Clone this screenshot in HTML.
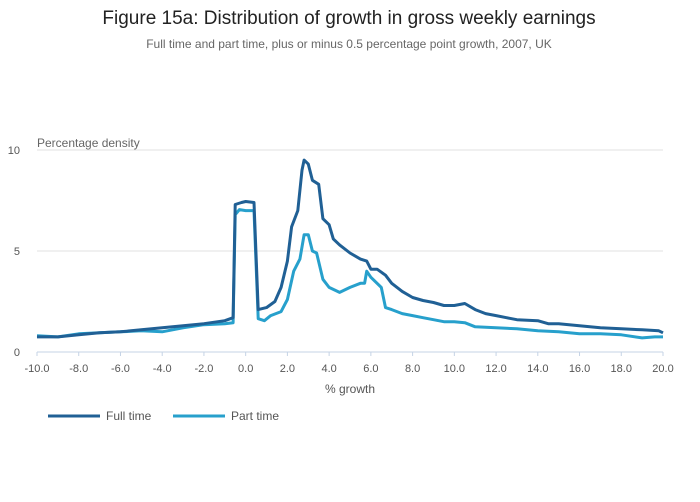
<!DOCTYPE html>
<html><head><meta charset="utf-8">
<style>
body{margin:0;background:#fff;font-family:"Liberation Sans",sans-serif;}
svg{display:block}
</style></head>
<body>
<svg id="chart" width="700" height="502">
<text x="349" y="24" text-anchor="middle" font-size="19" fill="#222">Figure 15a: Distribution of growth in gross weekly earnings</text>
<text x="349" y="48" text-anchor="middle" font-size="12" fill="#666">Full time and part time, plus or minus 0.5 percentage point growth, 2007, UK</text>
<text x="37" y="147" font-size="12" fill="#666">Percentage density</text>
<g id="grid"></g><g id="xaxis"></g><g id="series"></g>
<text x="350" y="393" text-anchor="middle" font-size="12" fill="#555">% growth</text>
<g>
<line x1="48" y1="416" x2="100" y2="416" stroke="#206095" stroke-width="3"/>
<text x="106" y="420" font-size="12" fill="#555">Full time</text></g>
<g>
<line x1="173" y1="416" x2="225" y2="416" stroke="#27a0cc" stroke-width="3"/>
<text x="231" y="420" font-size="12" fill="#555">Part time</text></g>
</svg>
<script>
const xTicks=[-10,-8,-6,-4,-2,0,2,4,6,8,10,12,14,16,18,20];
const yTicks=[0,5,10];
const ftX=[-10,-9,-8,-7,-6,-5,-4,-3,-2,-1,-0.6,-0.5,-0.2,0,0.4,0.6,1,1.4,1.7,2,2.2,2.5,2.7,2.8,3.0,3.2,3.5,3.7,4,4.2,4.5,5,5.5,5.8,6.0,6.3,6.7,7,7.5,8,8.5,9,9.5,10,10.5,11,11.5,12,12.5,13,14,14.5,15,16,17,18,19,19.8,20];
const ftY=[0.75,0.75,0.85,0.95,1.0,1.1,1.2,1.3,1.4,1.55,1.7,7.3,7.4,7.45,7.4,2.1,2.2,2.5,3.2,4.5,6.2,7.0,9.0,9.5,9.3,8.5,8.3,6.6,6.3,5.6,5.3,4.9,4.6,4.5,4.1,4.1,3.8,3.4,3.0,2.7,2.55,2.45,2.3,2.3,2.4,2.1,1.9,1.8,1.7,1.6,1.55,1.4,1.4,1.3,1.2,1.15,1.1,1.05,0.95];
const ptX=[-10,-9,-8,-7,-6,-5,-4,-3,-2,-1,-0.6,-0.5,-0.3,0,0.4,0.6,0.9,1.2,1.7,2,2.3,2.6,2.8,3.0,3.2,3.4,3.7,4.0,4.5,5,5.5,5.7,5.8,6.0,6.5,6.7,7,7.5,8,8.5,9,9.5,10,10.5,11,12,13,14,15,16,17,18,19,19.6,20];
const ptY=[0.8,0.75,0.9,0.95,1.0,1.05,1.0,1.2,1.35,1.4,1.45,6.8,7.05,7.0,7.0,1.65,1.55,1.8,2.0,2.6,4.0,4.6,5.8,5.8,5.0,4.9,3.6,3.2,2.95,3.2,3.4,3.4,4.0,3.7,3.2,2.2,2.1,1.9,1.8,1.7,1.6,1.5,1.5,1.45,1.25,1.2,1.15,1.05,1.0,0.9,0.9,0.85,0.7,0.75,0.75];
const X0=37,X1=663,Y0=352,Y1=150;
const sx=v=>X0+(v+10)/30*(X1-X0);
const sy=v=>Y0-v/10*(Y0-Y1);
const NS="http://www.w3.org/2000/svg";
function mk(tag,attrs,parent){const e=document.createElementNS(NS,tag);for(const k in attrs)e.setAttribute(k,attrs[k]);parent.appendChild(e);return e;}
const grid=document.getElementById('grid'),xa=document.getElementById('xaxis'),ser=document.getElementById('series');
yTicks.forEach(t=>{
 if(t>0){const l=mk('line',{x1:X0,x2:X1,y1:sy(t),y2:sy(t),stroke:'#e2e2e2','stroke-width':1},grid);
 
 }
 const tx=mk('text',{x:20,y:sy(t)+4,'font-size':11,fill:'#555','text-anchor':'end'},grid);
 tx.textContent=t;
 
 
});
const ax=mk('line',{x1:X0,x2:X1,y1:Y0,y2:Y0,stroke:'#c5d3e5','stroke-width':1},xa);


xTicks.forEach(t=>{
 mk('line',{x1:sx(t),x2:sx(t),y1:Y0,y2:Y0+4,stroke:'#c5d3e5'},xa);
 const tx=mk('text',{x:sx(t),y:372,'font-size':11,fill:'#555','text-anchor':'middle'},xa);
 tx.textContent=t.toFixed(1);
 
 
});
function line(xs,ys,color,name){
 const d=xs.map((x,i)=>(i?'L':'M')+sx(x).toFixed(1)+','+sy(ys[i]).toFixed(1)).join('');
 const p=mk('path',{d:d,fill:'none',stroke:color,'stroke-width':3,'stroke-linejoin':'round'},ser);
 
 
}
line(ptX,ptY,'#27a0cc','part-time-line');
line(ftX,ftY,'#206095','full-time-line');
</script>
</body></html>
